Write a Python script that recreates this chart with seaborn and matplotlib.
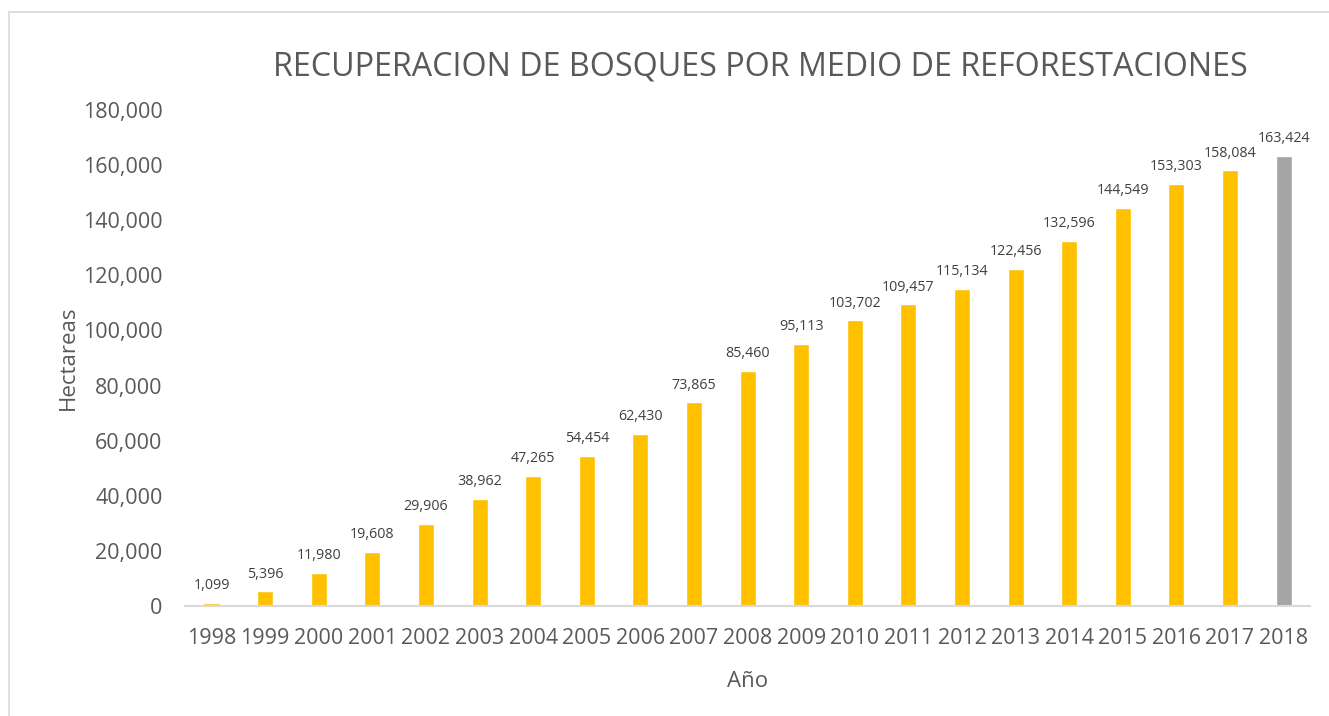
import pandas as pd
import numpy as np
import matplotlib.pyplot as plt
import seaborn as sns
from matplotlib.patches import Rectangle

years = ["1998", "1999", "2000", "2001", "2002", "2003", "2004", "2005", "2006", "2007",
         "2008", "2009", "2010", "2011", "2012", "2013", "2014", "2015", "2016", "2017", "2018"]
hectareas = [1099, 5396, 11980, 19608, 29906, 38962, 47265, 54454, 62430, 73865,
             85460, 95113, 103702, 109457, 115134, 122456, 132596, 144549, 153303, 158084, 163424]
colors = ["#FFC000"] * 20 + ["#A5A5A5"]

df = pd.DataFrame({"Año": years, "Hectareas": hectareas})

sns.set_style("white")
plt.rcParams['font.family'] = ['Open Sans', 'DejaVu Sans']
text_color = "#595959"

fig = plt.figure(figsize=(13.29, 7.16), dpi=100)
ax = fig.add_axes([0.139, 0.1536, 0.847, 0.6927])

sns.barplot(data=df, x="Año", y="Hectareas", hue="Año", palette=colors,
            width=0.3, legend=False, ax=ax, saturation=1)

for i, v in enumerate(hectareas):
    ax.text(i, v + 3500, "{:,}".format(v), ha="center", va="bottom",
            fontsize=10.3, color="#404040")

ax.set_ylim(0, 180000)
ax.set_xlim(-0.5, len(years) - 0.5)
ax.set_yticks(np.arange(0, 180001, 20000))
ax.set_yticklabels(["{:,}".format(t) for t in range(0, 180001, 20000)])
ax.tick_params(axis="both", labelsize=15.5, labelcolor=text_color, length=0)
ax.tick_params(axis="y", pad=16)
ax.tick_params(axis="x", pad=16)

for s in ["top", "right", "left"]:
    ax.spines[s].set_visible(False)
ax.spines["bottom"].set_color("#D9D9D9")
ax.spines["bottom"].set_linewidth(1.5)

ax.set_xlabel("Año", fontsize=16, color=text_color, labelpad=16)
ax.set_ylabel("Hectareas", fontsize=16, color=text_color, labelpad=3)

fig.text(0.572, 0.906, "RECUPERACION DE BOSQUES POR MEDIO DE REFORESTACIONES",
         ha="center", va="center", fontsize=23.2, color=text_color)

fig.patches.append(Rectangle((0.007, -0.01), 1.0, 0.993, transform=fig.transFigure,
                             fill=False, edgecolor="#D9D9D9", linewidth=1.2))

plt.savefig("out.png", dpi=100)
